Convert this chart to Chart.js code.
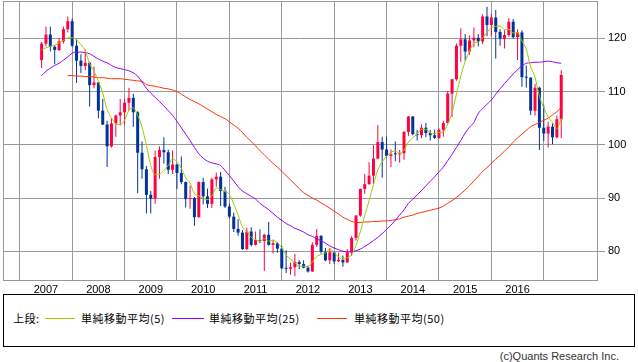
<!DOCTYPE html>
<html>
<head>
<meta charset="utf-8">
<script src="https://cdn.jsdelivr.net/npm/chart.js@4.4.1/dist/chart.umd.min.js"></script>
<style>
  body { margin: 0; background: #fff; width: 638px; height: 362px; position: relative; overflow: hidden; font-family: 'Noto Sans CJK JP', sans-serif; }
  #wrap { position: absolute; left: 0; top: 0; width: 638px; height: 293px; }
  #legend { position: absolute; left: 3px; top: 294px; width: 632px; height: 53px; border: 1px solid #000; box-sizing: border-box; }
  #legend span { position: absolute; top: 16px; font-size: 11px; line-height: 14px; color: #000; white-space: nowrap; letter-spacing: 0.5px; }
  #legend i { position: absolute; top: 23px; height: 1px; }
  #copy { position: absolute; right: 19px; top: 350px; font: 11px 'Liberation Sans', sans-serif; color: #333; }
</style>
</head>
<body>
<div id="wrap"><canvas id="grafico" width="638" height="293"></canvas></div>
<div id="legend">
  <span style="left:9px">上段:</span>
  <i style="left:41px;width:30px;background:#99cc00"></i>
  <span style="left:77px">単純移動平均(5)</span>
  <i style="left:168px;width:32px;background:#9900ff"></i>
  <span style="left:205px">単純移動平均(25)</span>
  <i style="left:313px;width:30px;background:#ff3300"></i>
  <span style="left:350px">単純移動平均(50)</span>
</div>
<div id="copy">(c)Quants Research Inc.</div>
<script>
// Datos mensuales (dic 2006 - nov 2016)
const meses = [
  '2006-12',
  '2007-01','2007-02','2007-03','2007-04','2007-05','2007-06','2007-07','2007-08','2007-09','2007-10','2007-11','2007-12',
  '2008-01','2008-02','2008-03','2008-04','2008-05','2008-06','2008-07','2008-08','2008-09','2008-10','2008-11','2008-12',
  '2009-01','2009-02','2009-03','2009-04','2009-05','2009-06','2009-07','2009-08','2009-09','2009-10','2009-11','2009-12',
  '2010-01','2010-02','2010-03','2010-04','2010-05','2010-06','2010-07','2010-08','2010-09','2010-10','2010-11','2010-12',
  '2011-01','2011-02','2011-03','2011-04','2011-05','2011-06','2011-07','2011-08','2011-09','2011-10','2011-11','2011-12',
  '2012-01','2012-02','2012-03','2012-04','2012-05','2012-06','2012-07','2012-08','2012-09','2012-10','2012-11','2012-12',
  '2013-01','2013-02','2013-03','2013-04','2013-05','2013-06','2013-07','2013-08','2013-09','2013-10','2013-11','2013-12',
  '2014-01','2014-02','2014-03','2014-04','2014-05','2014-06','2014-07','2014-08','2014-09','2014-10','2014-11','2014-12',
  '2015-01','2015-02','2015-03','2015-04','2015-05','2015-06','2015-07','2015-08','2015-09','2015-10','2015-11','2015-12',
  '2016-01','2016-02','2016-03','2016-04','2016-05','2016-06','2016-07','2016-08','2016-09','2016-10','2016-11'
]

const apertura = [
  115.9,
  119.0,120.7,118.4,117.8,119.4,121.7,123.2,118.6,115.8,114.8,115.4,111.2,
  111.7,106.4,103.8,99.7,104.0,105.5,106.1,107.9,108.8,106.1,98.5,95.4,
  90.6,89.9,97.7,99.0,98.6,95.3,96.3,94.7,93.0,89.8,90.0,86.4,
  93.0,90.3,88.9,93.5,94.0,91.3,88.4,86.5,84.2,83.5,80.4,83.7,
  81.2,82.1,81.9,83.1,81.2,81.5,80.5,76.8,76.7,77.0,78.0,77.6,
  76.9,76.2,81.2,82.9,79.9,78.3,79.8,78.1,78.4,77.9,79.8,82.5,
  86.7,91.7,92.6,94.2,97.4,100.5,99.1,97.9,98.4,98.2,98.4,102.4,
  105.3,102.0,101.8,103.2,102.2,101.8,101.3,102.8,104.1,109.6,112.3,118.6,
  119.8,117.5,119.6,120.1,119.4,124.1,122.5,123.9,121.2,119.9,120.6,123.1,
  120.2,121.1,112.7,112.6,106.4,110.7,103.2,102.1,103.4,101.4,104.8
]
const maximo = [
  119.3,
  122.2,122.2,118.7,120.0,122.2,124.1,123.7,119.8,117.0,117.9,115.6,114.7,
  111.8,108.6,104.5,105.0,105.7,108.6,108.6,110.7,109.6,106.3,100.6,96.0,
  91.3,98.9,99.7,101.4,99.1,98.9,96.4,97.8,93.1,92.3,90.2,93.1,
  93.8,91.8,93.8,94.8,94.9,92.1,88.9,87.3,86.0,84.0,84.4,84.5,
  83.7,84.1,83.3,85.5,82.2,81.7,81.0,80.2,77.9,79.5,78.3,78.3,
  77.3,81.7,84.2,83.0,80.6,80.6,79.9,79.7,79.2,80.4,82.8,86.8,
  91.8,94.5,96.7,99.9,103.7,101.5,101.5,99.1,100.6,99.0,102.6,105.4,
  105.4,102.8,103.8,104.1,102.8,102.8,103.1,104.5,110.1,112.4,119.0,121.9,
  120.8,120.5,122.0,120.8,124.5,125.9,124.6,125.3,121.7,121.5,123.8,123.6,
  121.7,121.5,114.9,112.7,111.4,110.9,107.5,104.3,104.0,105.5,114.0
]
const minimo = [
  114.4,
  118.5,117.5,115.1,117.6,119.0,121.1,118.3,111.6,113.5,114.0,107.2,110.6,
  105.0,103.7,95.8,99.5,101.5,103.6,103.8,106.4,103.4,90.9,93.6,87.1,
  87.1,88.9,93.6,96.5,94.5,94.5,91.7,92.6,88.2,88.0,84.8,86.3,
  88.8,88.1,88.1,92.1,88.5,88.1,86.2,83.6,82.9,80.3,80.3,80.9,
  81.1,81.5,76.3,81.1,79.6,79.7,76.6,75.9,75.6,75.3,76.6,76.8,
  76.0,76.1,80.8,79.6,78.1,77.6,77.6,78.0,77.1,77.8,79.1,82.0,
  86.5,90.8,92.5,92.6,97.3,93.8,97.6,95.8,96.9,96.6,97.2,101.6,
  101.8,100.8,101.2,101.4,100.8,101.1,101.1,101.5,104.0,105.2,112.0,115.6,
  115.8,116.9,118.3,118.5,118.9,120.4,120.4,116.2,118.6,118.1,120.3,119.9,
  115.9,110.9,110.7,105.6,105.5,99.0,100.7,99.5,100.1,101.2,101.2
]
const cierre = [
  119.0,
  120.7,118.4,117.8,119.4,121.7,123.2,118.6,115.8,114.8,115.4,111.2,111.7,
  106.4,103.8,99.7,104.0,105.5,106.1,107.9,108.8,106.1,98.5,95.4,90.6,
  89.9,97.7,99.0,98.6,95.3,96.3,94.7,93.0,89.8,90.0,86.4,93.0,
  90.3,88.9,93.5,94.0,91.3,88.4,86.5,84.2,83.5,80.4,83.7,81.2,
  82.1,81.9,83.1,81.2,81.5,80.5,76.8,76.7,77.0,78.0,77.6,76.9,
  76.2,81.2,82.9,79.9,78.3,79.8,78.1,78.4,77.9,79.8,82.5,86.7,
  91.7,92.6,94.2,97.4,100.5,99.1,97.9,98.2,98.2,98.4,102.4,105.3,
  102.0,101.8,103.2,102.2,101.8,101.3,102.8,104.1,109.6,112.3,118.6,119.8,
  117.5,119.6,120.1,119.4,124.1,122.5,123.9,121.2,119.9,120.6,123.1,120.2,
  121.1,112.7,112.6,106.4,110.7,103.2,102.1,103.4,101.4,104.8,113.1
]

// Medias móviles
const media5 = [
  117.8,118.2,118.5,118.7,119.1,119.6,120.1,120.1,119.7,118.8,
  117.6,115.2,113.8,111.9,109.7,106.6,105.1,103.9,103.8,104.6,
  106.5,106.9,105.5,103.3,99.9,96.1,94.4,94.5,95.2,96.1,
  97.4,96.8,95.6,93.8,92.8,90.8,90.4,89.9,89.7,90.4,
  91.9,91.6,91.2,90.7,88.9,86.8,84.6,83.7,82.6,82.2,
  81.9,82.4,81.9,82.0,81.6,80.6,79.3,78.5,77.8,77.2,
  77.2,77.1,78.0,79.0,79.4,79.7,80.4,79.8,78.9,78.5,
  78.8,79.3,81.1,83.7,86.7,89.5,92.5,95.3,96.8,97.8,
  98.6,98.8,98.4,99.0,100.5,101.3,102.0,102.9,102.9,102.2,
  102.1,102.3,102.4,103.9,106.0,109.5,112.9,115.6,117.6,119.1,
  119.3,120.1,121.1,122.0,122.2,122.3,121.6,121.7,121.0,121.0,
  119.5,117.9,114.6,112.7,109.1,107.0,105.2,104.2,103.0,105.0
]
const media25 = [
  113.0,113.8,114.4,114.9,115.3,115.9,116.5,117.2,117.4,117.4,
  117.3,117.1,116.6,116.1,115.7,115.4,114.9,114.5,114.3,114.1,
  113.9,113.5,112.9,111.8,110.6,109.7,108.9,108.1,107.3,106.4,
  105.5,104.4,103.2,102.0,100.8,99.5,98.3,97.5,96.9,96.6,
  96.4,96.1,95.2,94.2,93.2,92.1,91.3,90.8,90.3,89.8,
  89.0,88.4,87.8,87.1,86.4,85.8,85.2,84.8,84.3,84.0,
  83.6,83.1,82.8,82.3,82.0,81.5,81.0,80.6,80.3,80.0,
  79.9,79.9,80.1,80.4,80.9,81.4,82.0,82.6,83.3,84.1,
  84.9,85.8,86.8,87.8,89.0,89.8,90.6,91.4,92.3,93.1,
  94.0,94.9,95.8,97.0,98.2,99.5,100.8,102.2,103.3,104.2,
  105.9,106.8,107.6,108.4,109.5,110.5,111.5,112.4,113.3,114.1,
  114.8,115.3,115.4,115.5,115.5,115.6,115.7,115.6,115.4,115.3
]
const media50 = [
  null,null,null,null,null,null,113.0,113.0,112.9,112.9,
  112.8,112.8,112.7,112.6,112.6,112.5,112.4,112.4,112.4,112.3,
  112.2,112.1,112.0,111.9,111.3,111.1,111.0,110.8,110.6,110.5,
  110.3,110.0,109.5,109.0,108.5,108.1,107.7,107.2,106.7,106.2,
  105.7,105.3,104.9,104.3,103.7,103.1,102.3,101.4,100.6,99.8,
  98.9,98.1,97.3,96.5,95.8,95.0,94.2,93.4,92.6,91.8,
  91.0,90.5,90.0,89.6,89.1,88.6,88.1,87.5,87.0,86.4,
  86.0,85.6,85.4,85.4,85.5,85.5,85.6,85.6,85.7,85.7,
  85.8,85.9,86.1,86.4,86.6,86.8,87.1,87.3,87.5,87.7,
  87.9,88.1,88.5,89.0,89.5,90.1,90.8,91.5,92.3,93.2,
  94.1,95.0,95.7,96.5,97.3,98.0,98.8,99.6,100.5,101.3,
  102.0,102.7,103.4,103.8,104.2,104.6,105.0,105.6,106.2,107.0
]

const etiquetasAnios = [2007, 2008, 2009, 2010, 2011, 2012, 2013, 2014, 2015, 2016]
const etiquetasPrecio = [80, 90, 100, 110, 120]

const colorSube = '#ff0040'
const colorBaja = '#003399'
const gris = '#999999'

// posición en años decimales de cada mes
function posicionMes(mes) {
  return Number(mes.slice(0, 4)) + (Number(mes.slice(5)) - 1) / 12
}

function colorVela(ctx) {
  const i = ctx.dataIndex
  return cierre[i] >= apertura[i] ? colorSube : colorBaja
}

function serieLinea(valores, color) {
  return {
    type: 'line',
    data: meses.map((m, i) => ({ x: posicionMes(m), y: valores[i] })),
    borderColor: color,
    borderWidth: 1,
    pointRadius: 0,
    cubicInterpolationMode: 'monotone',
    order: 0
  }
}

// Marco gris alrededor del área del gráfico
const marco = {
  id: 'marco',
  beforeDatasetsDraw(chart) {
    const { ctx, chartArea: a } = chart
    ctx.save()
    ctx.strokeStyle = gris
    ctx.lineWidth = 1
    ctx.strokeRect(Math.round(a.left) + 0.5, Math.round(a.top) + 0.5, Math.round(a.right - a.left) - 1, Math.round(a.bottom - a.top))
    ctx.restore()
  }
}

const fuente = { family: 'Liberation Sans', size: 11 }

new Chart(document.getElementById('grafico'), {
  type: 'bar',
  data: {
    datasets: [
      serieLinea(media5, '#99cc00'),
      serieLinea(media25, '#9900ff'),
      serieLinea(media50, '#ff3300'),
      {
        type: 'bar',
        data: meses.map((m, i) => ({ x: posicionMes(m), y: [apertura[i], cierre[i]] })),
        backgroundColor: colorVela,
        grouped: false,
        maxBarThickness: 3,
        minBarLength: 1,
        order: 2
      },
      {
        type: 'bar',
        data: meses.map((m, i) => ({ x: posicionMes(m), y: [minimo[i], maximo[i]] })),
        backgroundColor: colorVela,
        grouped: false,
        maxBarThickness: 1,
        order: 3
      }
    ]
  },
  options: {
    responsive: false,
    animation: false,
    devicePixelRatio: 1,
    layout: { padding: { left: 3, top: 1, right: 0, bottom: 0 } },
    plugins: { legend: { display: false }, tooltip: { enabled: false } },
    scales: {
      x: {
        type: 'linear',
        min: 2006.18,
        max: 2017.535,
        offset: false,
        afterBuildTicks: (s) => { s.ticks = etiquetasAnios.map(v => ({ value: v })) },
        afterFit: (s) => { s.height = 13 },
        ticks: { color: '#000', font: fuente, padding: 3, maxRotation: 0, autoSkip: false, callback: (v) => String(v) },
        grid: { color: gris, lineWidth: 1, drawTicks: false },
        border: { display: false }
      },
      y: {
        position: 'right',
        min: 74.6,
        max: 127,
        afterBuildTicks: (s) => { s.ticks = etiquetasPrecio.map(v => ({ value: v })) },
        afterFit: (s) => { s.width = 40; s.paddingTop = 0; s.paddingBottom = 0 },
        ticks: { color: '#000', font: fuente, padding: 3 },
        grid: { color: gris, lineWidth: 1, tickLength: 7 },
        border: { display: false }
      }
    }
  },
  plugins: [marco]
})
</script>
</body>
</html>
